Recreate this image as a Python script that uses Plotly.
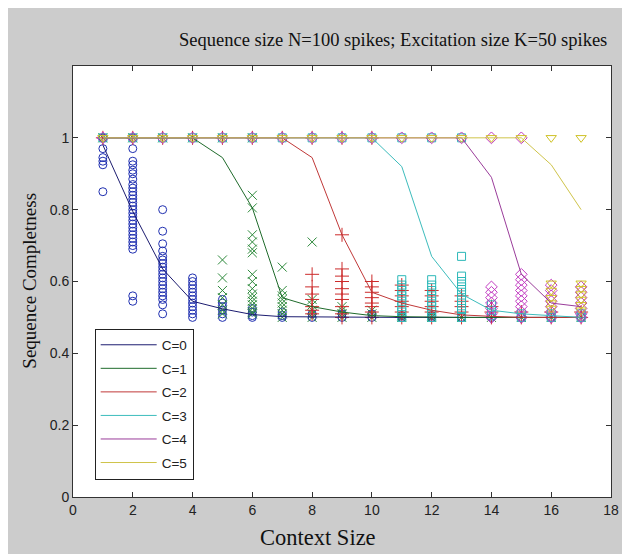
import plotly.graph_objects as go

# ---------------- data ----------------
context_size = list(range(1, 18))
series_names = ["C=0", "C=1", "C=2", "C=3", "C=4", "C=5"]
x_ticks = [0, 2, 4, 6, 8, 10, 12, 14, 16, 18]
y_ticks = [0, 0.2, 0.4, 0.6, 0.8, 1]
y_tick_text = ["0", "0.2", "0.4", "0.6", "0.8", "1"]

c0_mean = [0.98, 0.795, 0.635, 0.545, 0.524, 0.508, 0.502, 0.501, 0.5, 0.5, 0.5, 0.5, 0.5, 0.5, 0.5, 0.5, 0.5]
c1_mean = [1, 1, 1, 1, 0.945, 0.805, 0.555, 0.53, 0.515, 0.505, 0.502, 0.5, 0.5, 0.5, 0.5, 0.5, 0.5]
c2_mean = [1, 1, 1, 1, 1, 1, 1, 0.945, 0.73, 0.57, 0.54, 0.52, 0.507, 0.503, 0.5, 0.5, 0.5]
c3_mean = [1, 1, 1, 1, 1, 1, 1, 1, 1, 1, 0.92, 0.67, 0.565, 0.52, 0.51, 0.505, 0.5]
c4_mean = [1, 1, 1, 1, 1, 1, 1, 1, 1, 1, 1, 1, 1, 0.89, 0.62, 0.54, 0.53]
c5_mean = [1, 1, 1, 1, 1, 1, 1, 1, 1, 1, 1, 1, 1, 1, 1, 0.925, 0.80]

c0_trials = [
    [1.0, 1.0, 0.97, 0.945, 0.935, 0.925, 0.85],
    [1.0, 0.97, 0.935, 0.925, 0.91, 0.90, 0.885, 0.87, 0.86, 0.85, 0.84, 0.83, 0.82, 0.81, 0.80,
     0.79, 0.78, 0.77, 0.76, 0.75, 0.74, 0.73, 0.72, 0.71, 0.70, 0.69, 0.56, 0.545],
    [0.80, 0.74, 0.705, 0.685, 0.67, 0.66, 0.65, 0.64, 0.63, 0.62, 0.61, 0.60, 0.59, 0.58, 0.57,
     0.56, 0.55, 0.535, 0.51],
    [0.61, 0.60, 0.59, 0.58, 0.57, 0.56, 0.55, 0.54, 0.53, 0.52, 0.51, 0.50],
    [0.55, 0.54, 0.53, 0.52, 0.51, 0.50],
    [0.525, 0.515, 0.505, 0.50],
    [0.515, 0.505, 0.50],
    [0.51, 0.50], [0.51, 0.50], [0.51, 0.50], [0.505, 0.50], [0.505, 0.50],
    [0.50], [0.50], [0.50], [0.50], [0.50],
]
c1_trials = [
    [1.0], [1.0], [1.0], [1.0],
    [1.0, 0.66, 0.61, 0.575, 0.555, 0.535, 0.52, 0.51],
    [1.0, 0.84, 0.805, 0.73, 0.71, 0.69, 0.68, 0.62, 0.60, 0.58, 0.565, 0.555, 0.545, 0.535,
     0.525, 0.515, 0.51],
    [0.64, 0.575, 0.56, 0.55, 0.54, 0.53, 0.52, 0.51, 0.50],
    [0.71, 0.55, 0.535, 0.52, 0.51, 0.50],
    [0.53, 0.52, 0.51, 0.50],
    [0.52, 0.51, 0.50],
    [0.505, 0.50], [0.505, 0.50], [0.50], [0.50], [0.50], [0.50], [0.50],
]
c2_trials = [
    [1.0], [1.0], [1.0], [1.0], [1.0], [1.0], [1.0],
    [1.0, 0.62, 0.585, 0.565, 0.55, 0.53, 0.52, 0.51],
    [1.0, 0.73, 0.635, 0.615, 0.60, 0.58, 0.565, 0.55, 0.53, 0.51, 0.50],
    [1.0, 0.60, 0.585, 0.57, 0.555, 0.54, 0.53, 0.515, 0.50],
    [0.59, 0.575, 0.56, 0.545, 0.53, 0.515, 0.50],
    [0.575, 0.56, 0.545, 0.53, 0.515, 0.50],
    [0.56, 0.545, 0.53, 0.515, 0.50],
    [0.53, 0.515, 0.50],
    [0.515, 0.50], [0.515, 0.50], [0.515, 0.50],
]
c3_trials = [
    [1.0], [1.0], [1.0], [1.0], [1.0], [1.0], [1.0], [1.0], [1.0], [1.0],
    [1.0, 0.605, 0.59, 0.575, 0.56, 0.545, 0.53, 0.515, 0.50],
    [1.0, 0.605, 0.59, 0.575, 0.56, 0.545, 0.53, 0.515, 0.50],
    [1.0, 0.67, 0.615, 0.60, 0.585, 0.57, 0.555, 0.54, 0.525, 0.51, 0.50],
    [0.535, 0.52, 0.505],
    [0.51, 0.50], [0.51, 0.50], [0.51, 0.50],
]
c4_trials = [
    [1.0], [1.0], [1.0], [1.0], [1.0], [1.0], [1.0], [1.0], [1.0], [1.0], [1.0], [1.0], [1.0],
    [1.0, 0.585, 0.57, 0.555, 0.54, 0.525, 0.51, 0.50],
    [1.0, 0.62, 0.605, 0.59, 0.575, 0.56, 0.545, 0.53, 0.515, 0.50],
    [0.59, 0.575, 0.56, 0.545, 0.53, 0.515, 0.50],
    [0.585, 0.57, 0.555, 0.54, 0.525, 0.51, 0.50],
]
c5_trials = [
    [1.0], [1.0], [1.0], [1.0], [1.0], [1.0], [1.0], [1.0], [1.0], [1.0], [1.0], [1.0], [1.0],
    [1.0], [1.0],
    [1.0, 0.595, 0.575, 0.555, 0.54, 0.525],
    [1.0, 0.595, 0.58, 0.565, 0.55, 0.535, 0.52],
]

# ---------------- styles ----------------
means = [c0_mean, c1_mean, c2_mean, c3_mean, c4_mean, c5_mean]
trials = [c0_trials, c1_trials, c2_trials, c3_trials, c4_trials, c5_trials]
marker_symbols = ["circle-open", "x-thin-open", "cross-thin-open", "square-open", "diamond-open",
                  "triangle-down-open"]
marker_colors = ["#1f2fb0", "#2e8a3c", "#cc2a2a", "#2cb8b8", "#c23ac2", "#cfc226"]
line_colors = ["#1c1c70", "#1f6b2b", "#c03838", "#3cbcbc", "#9a3c9a", "#cfc44a"]
marker_sizes = [8, 9, 10, 8, 9, 9]

fig = go.Figure()

for i, name in enumerate(series_names):
    xs, ys = [], []
    for cx, vals in zip(context_size, trials[i]):
        for v in vals:
            xs.append(cx)
            ys.append(v)
    fig.add_trace(go.Scatter(
        x=xs, y=ys, mode="markers", showlegend=False, hoverinfo="skip",
        marker=dict(symbol=marker_symbols[i], size=marker_sizes[i], color=marker_colors[i],
                    line=dict(width=1, color=marker_colors[i])),
    ))

for i, name in enumerate(series_names):
    fig.add_trace(go.Scatter(
        x=context_size, y=means[i], mode="lines", name=name, legendgroup=f"g{i}",
        line=dict(color=line_colors[i], width=1),
    ))

# The page body adds an 8px white margin; figure coordinates = page coordinates - 8.
OFF = 8
W, H = 630 - OFF, 554 - OFF
L, R, T, B = 73 - OFF, 619 - OFF, 66 - OFF, 497 - OFF


def px(xp_page):
    return (xp_page - OFF - L) / (R - L)


def py(yp_page):
    return (B - (yp_page - OFF)) / (B - T)


serif = "Liberation Serif, Times New Roman, serif"
sans = "Liberation Sans, Arial, sans-serif"

fig.update_layout(
    width=W, height=H,
    margin=dict(l=L, r=W - R, t=T, b=H - B, pad=0),
    paper_bgcolor="#cccccc",
    plot_bgcolor="white",
    font=dict(family=sans, size=14, color="#222222"),
    showlegend=True,
    legend=dict(
        x=px(95), y=py(404), xanchor="left", yanchor="middle",
        bgcolor="white", bordercolor="#222222", borderwidth=1,
        font=dict(family=sans, size=13.5, color="#222222"),
        tracegroupgap=3, itemwidth=56, traceorder="grouped",
    ),
    xaxis=dict(
        range=[0, 18], tickmode="array", tickvals=x_ticks, ticktext=[str(v) for v in x_ticks],
        showgrid=False, zeroline=False, showline=True, linecolor="#333333", linewidth=1,
        mirror="ticks", ticks="inside", ticklen=5, tickcolor="#333333",
        tickfont=dict(family=sans, size=14, color="#222222"),
    ),
    yaxis=dict(
        range=[0, 1.2], tickmode="array", tickvals=y_ticks, ticktext=y_tick_text,
        showgrid=False, zeroline=False, showline=True, linecolor="#333333", linewidth=1,
        mirror="ticks", ticks="inside", ticklen=5, tickcolor="#333333",
        tickfont=dict(family=sans, size=14, color="#222222"),
    ),
    annotations=[
        dict(text="Sequence size N=100 spikes; Excitation size K=50 spikes", xref="paper",
             yref="paper", x=px(398), y=py(40), xanchor="center", yanchor="middle",
             showarrow=False, font=dict(family=serif, size=18.5, color="#111111")),
        dict(text="Context Size", xref="paper", yref="paper", x=px(322), y=py(537),
             xanchor="center", yanchor="middle", showarrow=False,
             font=dict(family=serif, size=22.5, color="#111111")),
        dict(text="Sequence Completness", xref="paper", yref="paper", x=px(28), y=py(281),
             xanchor="center", yanchor="middle", showarrow=False, textangle=-90,
             font=dict(family=serif, size=19, color="#111111")),
    ],
)

fig.write_html("out.html")
